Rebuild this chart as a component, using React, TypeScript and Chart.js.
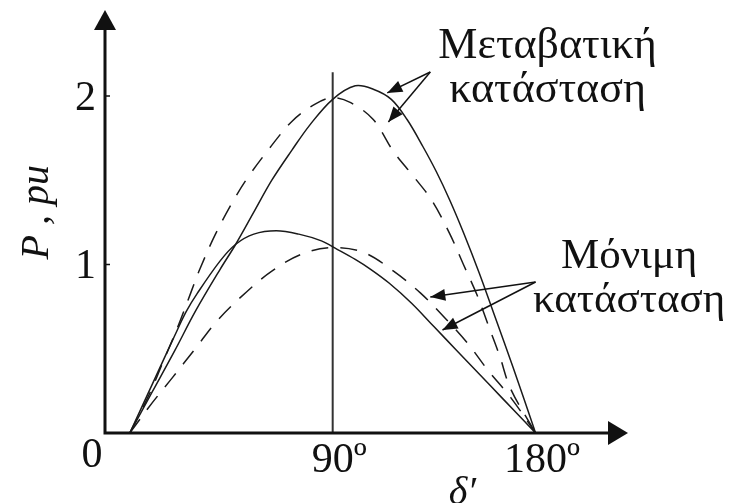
import React, { useEffect, useRef } from "react";
import { Chart, registerables } from "chart.js";

Chart.register(...registerables);

// Load angle δ' (degrees) and power P (pu) for the four power-angle curves
const transientSolidDelta = [0, 10, 20, 29, 40, 47, 55, 63, 72, 80, 90, 100, 108, 116, 123, 130, 136, 142, 148, 155, 162, 170, 180];
const transientSolidP = [0, 0.245, 0.49, 0.72, 0.97, 1.12, 1.31, 1.5, 1.68, 1.83, 1.98, 2.06, 2.04, 1.98, 1.86, 1.7, 1.55, 1.38, 1.19, 0.95, 0.69, 0.39, 0];

const transientDashedDelta = [0, 9, 15, 21, 27, 31, 38, 46, 52, 62, 72, 82, 90, 98, 108, 117, 126, 134, 142, 148, 154, 159, 164, 169, 180];
const transientDashedP = [0, 0.24, 0.43, 0.62, 0.83, 0.97, 1.18, 1.38, 1.51, 1.69, 1.85, 1.95, 1.99, 1.96, 1.86, 1.67, 1.52, 1.38, 1.18, 1.0, 0.82, 0.64, 0.46, 0.26, 0];

const steadySolidDelta = [0, 10, 20, 25, 30, 40, 47, 55, 65, 75, 85, 92, 100, 107, 115, 125, 135, 145, 155, 165, 180];
const steadySolidP = [0, 0.29, 0.58, 0.72, 0.83, 1.02, 1.12, 1.18, 1.2, 1.18, 1.14, 1.09, 1.03, 0.97, 0.89, 0.77, 0.63, 0.49, 0.35, 0.21, 0];

const steadyDashedDelta = [0, 10, 19, 29, 39, 52, 63, 76, 90, 104, 117, 129, 140, 150, 159, 169, 180];
const steadyDashedP = [0, 0.18, 0.33, 0.5, 0.67, 0.84, 0.96, 1.06, 1.1, 1.07, 0.96, 0.83, 0.68, 0.53, 0.37, 0.21, 0];

// Vertical marker at 90°
const markerDelta = [90, 90];
const markerP = [0, 2.14];

// Axis ranges and tick labels
const X_MIN = -11;
const X_MAX = 221;
const Y_MIN = 0;
const Y_MAX = 2.51;
const yTickValues = [1, 2];
const yTickLabels = ["1", "2"];
const xTickValues = [90, 180];
const xTickLabels = ["90", "180"];
const originLabel = "0";
const xAxisTitle = "δ′";
const yAxisTitle = "P , pu";

// Callout labels and where their arrows start and end (δ', P)
const transientLabel = ["Μεταβατική", "κατάσταση"];
const transientLabelAt = [185.3, 2.225];
const transientArrowFrom = [133.3, 2.142];
const transientArrowTips = [
  [114.2, 2.018],
  [114.7, 1.846],
];

const steadyLabel = ["Μόνιμη", "κατάσταση"];
const steadyLabelAt = [221.5, 0.98];
const steadyArrowFrom = [180, 0.896];
const steadyArrowTips = [
  [133.3, 0.807],
  [138.7, 0.611],
];

const zip = (xs: number[], ys: number[]) => xs.map((x, i) => ({ x, y: ys[i] }));

const SERIF = '"Liberation Serif", "Times New Roman", serif';
const INK = "#111";

function arrowHead(ctx: CanvasRenderingContext2D, fx: number, fy: number, tx: number, ty: number, len: number, half: number) {
  const a = Math.atan2(ty - fy, tx - fx);
  const bx = tx - len * Math.cos(a);
  const by = ty - len * Math.sin(a);
  ctx.beginPath();
  ctx.moveTo(tx, ty);
  ctx.lineTo(bx + half * Math.sin(a), by - half * Math.cos(a));
  ctx.lineTo(bx - half * Math.sin(a), by + half * Math.cos(a));
  ctx.closePath();
  ctx.fill();
}

const diagramOverlay = {
  id: "diagramOverlay",
  afterDatasetsDraw(chart: any) {
    const { ctx } = chart;
    const xs = chart.scales.x;
    const ys = chart.scales.y;
    const px = (v: number) => xs.getPixelForValue(v);
    const py = (v: number) => ys.getPixelForValue(v);

    const ax = px(X_MIN);
    const ay = py(0);
    const topY = py(Y_MAX);
    const rightX = px(X_MAX);

    ctx.save();
    ctx.fillStyle = INK;
    ctx.strokeStyle = INK;

    // Axes with arrowheads
    ctx.lineWidth = 3;
    ctx.beginPath();
    ctx.moveTo(ax, ay + 1.5);
    ctx.lineTo(ax, topY + 18);
    ctx.moveTo(ax - 1.5, ay);
    ctx.lineTo(rightX - 18, ay);
    ctx.stroke();
    arrowHead(ctx, ax, ay, ax, topY, 20, 11);
    arrowHead(ctx, ax, ay, rightX, ay, 20, 12);

    // Small y ticks
    ctx.lineWidth = 1.5;
    ctx.beginPath();
    yTickValues.forEach((v) => {
      ctx.moveTo(ax, py(v));
      ctx.lineTo(ax + 5, py(v));
    });
    ctx.stroke();

    // Tick labels
    ctx.font = `42px ${SERIF}`;
    ctx.textBaseline = "alphabetic";
    ctx.textAlign = "right";
    yTickValues.forEach((v, i) => {
      ctx.fillText(yTickLabels[i], ax - 9, py(v) + 14);
    });
    ctx.textAlign = "center";
    ctx.fillText(originLabel, ax - 13, ay + 34);
    ctx.textAlign = "left";
    xTickValues.forEach((v, i) => {
      const w = ctx.measureText(xTickLabels[i]).width;
      ctx.fillText(xTickLabels[i] + "º", px(v) - w / 2, ay + 39);
    });

    // Axis titles
    ctx.font = `italic 40px ${SERIF}`;
    ctx.textAlign = "center";
    ctx.fillText(xAxisTitle, px(147.5), ay + 71);
    ctx.save();
    ctx.translate(ax - 57, py(1.31));
    ctx.rotate(-Math.PI / 2);
    ctx.fillText(yAxisTitle, 0, 0);
    ctx.restore();

    // Callout arrows
    ctx.lineWidth = 1.5;
    const callout = (from: number[], tips: number[][]) => {
      const fx = px(from[0]);
      const fy = py(from[1]);
      tips.forEach((t) => {
        const tx = px(t[0]);
        const ty = py(t[1]);
        ctx.beginPath();
        ctx.moveTo(fx, fy);
        ctx.lineTo(tx, ty);
        ctx.stroke();
        arrowHead(ctx, fx, fy, tx, ty, 15, 6);
      });
    };
    callout(transientArrowFrom, transientArrowTips);
    callout(steadyArrowFrom, steadyArrowTips);

    // Callout labels
    ctx.textAlign = "center";
    const label = (lines: string[], at: number[], size: number) => {
      ctx.font = `${size}px ${SERIF}`;
      const cx = px(at[0]);
      const by = py(at[1]);
      lines.forEach((s, i) => ctx.fillText(s, cx, by + i * 44));
    };
    label(transientLabel, transientLabelAt, 44);
    label(steadyLabel, steadyLabelAt, 43);

    ctx.restore();
  },
};

export default function App() {
  const canvasRef = useRef<HTMLCanvasElement | null>(null);

  useEffect(() => {
    if (!canvasRef.current) return;
    const curve = (d: number[], p: number[], dashed: boolean) => ({
      data: zip(d, p),
      borderColor: "#1a1a1a",
      borderWidth: 1.5,
      borderDash: dashed ? [17, 12] : [],
      pointRadius: 0,
      tension: 0.35,
      fill: false,
    });
    const chart = new Chart(canvasRef.current, {
      type: "line",
      data: {
        datasets: [
          curve(transientSolidDelta, transientSolidP, false),
          curve(transientDashedDelta, transientDashedP, true),
          curve(steadySolidDelta, steadySolidP, false),
          curve(steadyDashedDelta, steadyDashedP, true),
          {
            data: zip(markerDelta, markerP),
            borderColor: "#333",
            borderWidth: 2,
            pointRadius: 0,
            tension: 0,
            fill: false,
          },
        ],
      },
      options: {
        animation: false,
        responsive: false,
        devicePixelRatio: 1,
        events: [],
        layout: { padding: { left: 105, right: 108, top: 10, bottom: 70 } },
        plugins: { legend: { display: false }, tooltip: { enabled: false } },
        scales: {
          x: { type: "linear", min: X_MIN, max: X_MAX, display: false },
          y: { type: "linear", min: Y_MIN, max: Y_MAX, display: false },
        },
      },
      plugins: [diagramOverlay],
    });
    return () => chart.destroy();
  }, []);

  return (
    <div style={{ position: "fixed", left: 0, top: 0, width: 736, height: 503, background: "#fff" }}>
      <canvas ref={canvasRef} width={736} height={503} />
    </div>
  );
}
